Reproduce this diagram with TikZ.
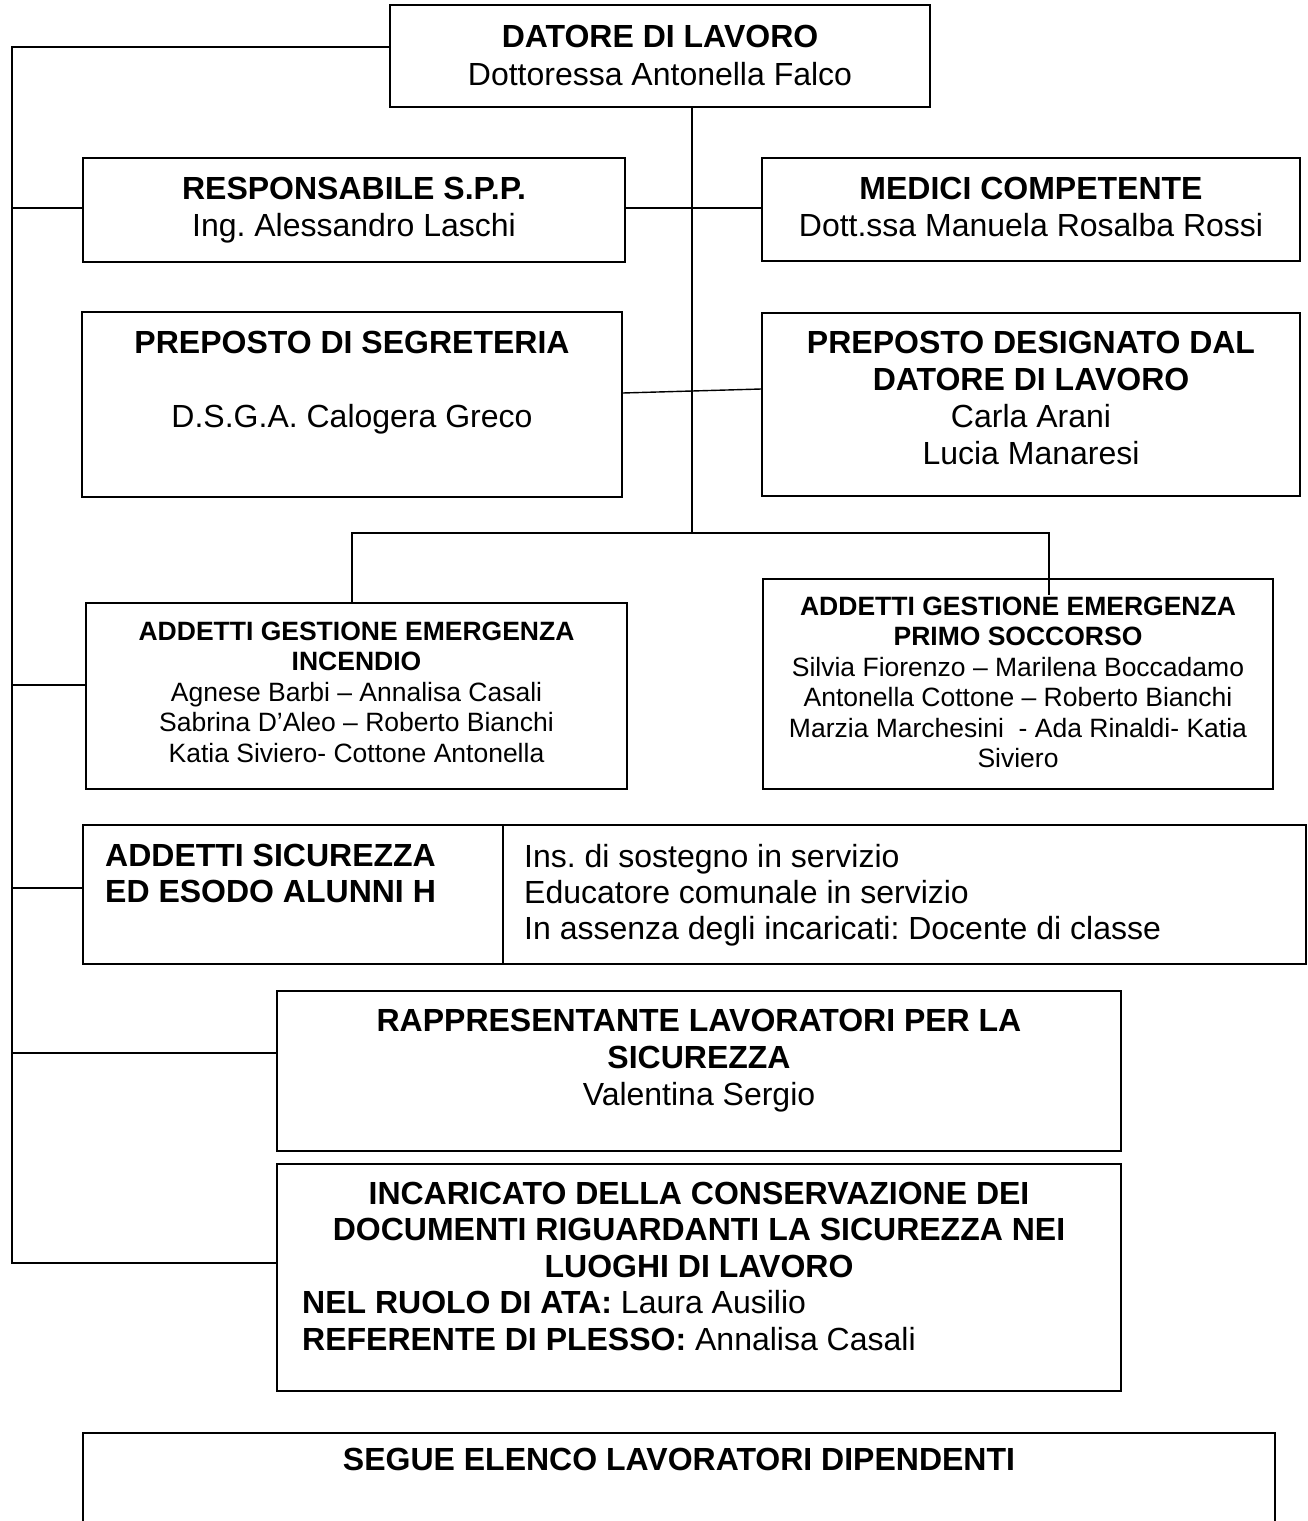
\documentclass[tikz,border=0pt]{standalone}
\usepackage{fontspec}
\setmainfont{Liberation Sans}
\frenchspacing
\begin{document}
\frenchspacing
\begin{tikzpicture}[x=1pt,y=-1pt,
  box/.style={draw, line width=1.6pt, inner sep=0pt, rectangle},
  conn/.style={line width=1.4pt},
  bigtxt/.style={font=\fontsize{32}{37}\selectfont, align=center, inner sep=0pt, anchor=base},
  smalltxt/.style={font=\fontsize{26.5}{30.5}\selectfont, align=center, inner sep=0pt, anchor=base},
  lefttxt/.style={font=\fontsize{32}{36}\selectfont, align=left, inner sep=0pt, anchor=base west}]
\useasboundingbox (0,0) rectangle (1307,1521);
\fill[white] (0,0) rectangle (1307,1521);

% boxes
\node[box, minimum width=540, minimum height=102] (datore) at (660,56) {};
\node[box, minimum width=542, minimum height=104] (resp) at (354,210) {};
\node[box, minimum width=538, minimum height=103] (medici) at (1031,209.5) {};
\node[box, minimum width=540, minimum height=185] (seg) at (352,404.5) {};
\node[box, minimum width=538, minimum height=183] (des) at (1031,404.5) {};
\node[box, minimum width=541, minimum height=186] (incend) at (356.5,696) {};
\node[box, minimum width=510, minimum height=210] (primo) at (1018,684) {};
\node[box, minimum width=420, minimum height=139] (sicl) at (293,894.5) {};
\node[box, minimum width=803, minimum height=139] (sicr) at (904.5,894.5) {};
\node[box, minimum width=844, minimum height=160] (rappr) at (699,1071) {};
\node[box, minimum width=844, minimum height=227] (incar) at (699,1277.5) {};
\node[box, minimum width=1192, minimum height=107] (segue) at (679,1486.5) {};

% texts (anchor base = baseline of the last line)
\node[bigtxt] (datore-t) at (660,85) {\textbf{DATORE DI LAVORO}\\[1pt]Dottoressa Antonella Falco};
\node[bigtxt] (resp-t) at (354,236) {\textbf{RESPONSABILE S.P.P.}\\Ing. Alessandro Laschi};
\node[bigtxt] (medici-t) at (1031,236) {\textbf{MEDICI COMPETENTE}\\Dott.ssa Manuela Rosalba Rossi};
\node[bigtxt] (seg-t) at (352,427) {\textbf{PREPOSTO DI SEGRETERIA}\\[37pt]D.S.G.A. Calogera Greco};
\node[bigtxt] (des-t) at (1031,464) {\textbf{PREPOSTO DESIGNATO DAL}\\\textbf{DATORE DI LAVORO}\\Carla Arani\\Lucia Manaresi};
\node[smalltxt] (incend-t) at (356.5,762) {\textbf{ADDETTI GESTIONE EMERGENZA}\\\textbf{INCENDIO}\\Agnese Barbi – Annalisa Casali\\Sabrina D’Aleo – Roberto Bianchi\\Katia Siviero- Cottone Antonella};
\node[smalltxt] (primo-t) at (1018,767.5) {\textbf{ADDETTI GESTIONE EMERGENZA}\\\textbf{PRIMO SOCCORSO}\\Silvia Fiorenzo – Marilena Boccadamo\\Antonella Cottone – Roberto Bianchi\\Marzia Marchesini~ - Ada Rinaldi- Katia\\Siviero};
\node[lefttxt] (sicl-t) at (105,902) {\textbf{ADDETTI SICUREZZA}\\\textbf{ED ESODO ALUNNI H}};
\node[lefttxt] (sicr-t) at (524,939) {Ins. di sostegno in servizio\\Educatore comunale in servizio\\In assenza degli incaricati: Docente di classe};
\node[bigtxt] (rappr-t) at (699,1105) {\textbf{RAPPRESENTANTE LAVORATORI PER LA}\\\textbf{SICUREZZA}\\Valentina Sergio};
\node[bigtxt, font=\fontsize{32}{36.5}\selectfont] (incar-t) at (699,1277) {\textbf{INCARICATO DELLA CONSERVAZIONE DEI}\\\textbf{DOCUMENTI RIGUARDANTI LA SICUREZZA NEI}\\\textbf{LUOGHI DI LAVORO}};
\node[lefttxt, font=\fontsize{32}{37}\selectfont] (incar-b) at (302,1350) {\textbf{NEL RUOLO DI ATA:} Laura Ausilio\\\textbf{REFERENTE DI PLESSO:} Annalisa Casali};
\node[bigtxt] (segue-t) at (679,1470) {\textbf{SEGUE ELENCO LAVORATORI DIPENDENTI}};

% connectors
\coordinate (busTop) at (12,47);
\coordinate (busBot) at (12,1263);
\draw[conn] (datore.west |- busTop) -- (busTop) -- (busBot) -- (busBot -| incar.west);
\coordinate (j1) at (12,208);
\coordinate (j2) at (12,685);
\coordinate (j3) at (12,888);
\coordinate (j4) at (12,1053);
\draw[conn] (j1) -- (j1 -| resp.west);
\draw[conn] (j2) -- (j2 -| incend.west);
\draw[conn] (j3) -- (j3 -| sicl.west);
\draw[conn] (j4) -- (j4 -| rappr.west);
\coordinate (sp) at (692,533);
\draw[conn] (datore.south -| sp) -- (sp);
\coordinate (rm) at (692,208);
\draw[conn] (resp.east |- rm) -- (medici.west |- rm);
\coordinate (sd1) at (622,393);
\coordinate (sd2) at (762,389);
\draw[conn] (sd1 -| seg.east) -- (sd2 -| des.west);
\coordinate (h1) at (352,533);
\coordinate (h2) at (1049,533);
\coordinate (h3) at (1049,595);
\draw[conn] (h1 |- incend.north) -- (h1) -- (h2) -- (h3);
\end{tikzpicture}
\end{document}
